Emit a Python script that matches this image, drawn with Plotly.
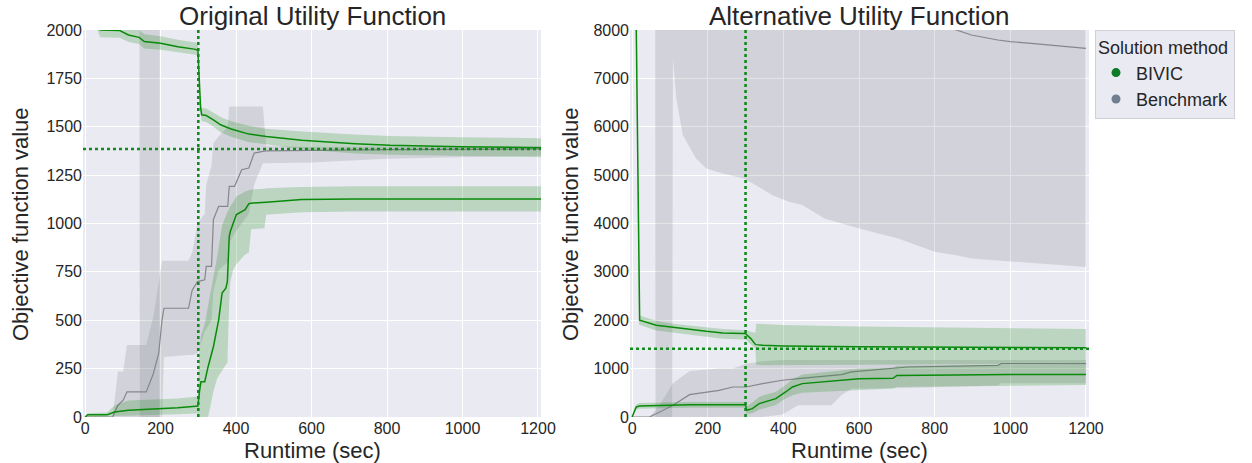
import plotly.graph_objects as go

# ---------------- Original Utility Function ----------------
# BIVIC upper bound (mean, lower/upper band)
orig_bivic_up_x = [0, 25, 40, 92, 115, 143, 157, 200, 246, 293, 299, 302, 306, 309, 321, 340, 359, 387, 434, 480, 574, 715, 808, 996, 1208]
orig_bivic_up_y = [2250, 2080, 2000, 1997, 1974, 1962, 1940, 1931, 1914, 1900, 1893, 1750, 1600, 1562, 1558, 1536, 1510, 1488, 1462, 1450, 1430, 1412, 1404, 1397, 1392]
orig_bivic_up_lo = [2200, 2040, 1962, 1960, 1938, 1928, 1905, 1898, 1884, 1872, 1866, 1710, 1565, 1528, 1524, 1500, 1472, 1448, 1420, 1410, 1382, 1362, 1355, 1348, 1343]
orig_bivic_up_hi = [2300, 2120, 2040, 2036, 2012, 2000, 1978, 1968, 1950, 1935, 1928, 1800, 1640, 1598, 1594, 1572, 1550, 1528, 1505, 1490, 1475, 1460, 1452, 1446, 1441]

# BIVIC lower bound
orig_bivic_lo_x = [0, 7, 59, 78, 115, 153, 218, 246, 293, 299, 303, 307, 317, 321, 326, 340, 350, 354, 363, 373, 377, 382, 385, 392, 401, 424, 434, 440, 475, 480, 574, 715, 1208]
orig_bivic_lo_y = [0, 12, 12, 26, 35, 38, 43, 48, 55, 56, 130, 182, 182, 225, 260, 363, 450, 502, 640, 666, 700, 934, 960, 1000, 1046, 1072, 1103, 1105, 1108, 1110, 1124, 1127, 1127]
orig_bivic_lo_lo = [0, 0, 0, 5, 8, 10, 12, 14, 18, 18, 0, 0, 0, 0, 0, 130, 200, 215, 240, 270, 280, 600, 700, 760, 790, 840, 850, 970, 975, 1045, 1058, 1062, 1062]
orig_bivic_lo_hi = [0, 20, 25, 60, 85, 88, 90, 95, 105, 110, 350, 420, 480, 520, 580, 720, 830, 880, 990, 1040, 1060, 1080, 1090, 1110, 1140, 1165, 1172, 1176, 1180, 1182, 1188, 1192, 1192]

# Benchmark lower bound
orig_bench_lo_x = [0, 73, 87, 101, 111, 162, 181, 195, 204, 209, 274, 284, 298, 317, 321, 335, 340, 354, 378, 382, 396, 415, 434, 448, 471, 480, 600, 800, 1208]
orig_bench_lo_y = [0, 0, 61, 87, 130, 130, 225, 329, 502, 562, 562, 657, 700, 709, 778, 778, 1021, 1089, 1089, 1192, 1192, 1278, 1287, 1364, 1373, 1375, 1378, 1382, 1385]
orig_bench_lo_lo = [0, 0, 0, 0, 0, 0, 0, 0, 0, 310, 320, 320, 330, 440, 450, 500, 650, 760, 800, 900, 950, 1000, 1050, 1200, 1312, 1313, 1315, 1335, 1350]
orig_bench_lo_hi = [0, 0, 235, 235, 372, 372, 520, 700, 808, 808, 808, 850, 1000, 1050, 1200, 1300, 1416, 1450, 1500, 1605, 1605, 1605, 1605, 1605, 1605, 1400, 1395, 1398, 1400]

# Benchmark upper bound (mean sits above the visible range)
orig_bench_up_x = [0, 144, 145, 197, 198, 1208]
orig_bench_up_y = [2600, 2600, 2600, 2600, 2600, 2600]
orig_bench_up_lo = [2300, 2300, 0, 0, 2300, 2300]
orig_bench_up_hi = [3000, 3000, 3000, 3000, 3000, 3000]

orig_best_value = 1385

# ---------------- Alternative Utility Function ----------------
alt_bivic_up_x = [0, 18, 20, 64, 108, 152, 196, 240, 294, 300, 303, 314, 326, 328, 345, 400, 600, 800, 1000, 1200]
alt_bivic_up_y = [15500, 2050, 2000, 1897, 1848, 1814, 1772, 1738, 1724, 1724, 1700, 1620, 1500, 1496, 1483, 1470, 1450, 1440, 1432, 1430]
alt_bivic_up_lo = [15300, 1950, 1900, 1790, 1740, 1700, 1660, 1620, 1600, 1600, 1580, 1500, 1420, 1080, 1070, 1065, 1070, 1080, 1090, 1100]
alt_bivic_up_hi = [15700, 2150, 2100, 1990, 1930, 1890, 1850, 1820, 1800, 1800, 1790, 1760, 1740, 1930, 1920, 1900, 1870, 1850, 1830, 1820]

alt_bivic_lo_x = [0, 11, 20, 64, 152, 294, 300, 303, 318, 336, 354, 380, 406, 424, 450, 600, 690, 700, 1000, 1200]
alt_bivic_lo_y = [0, 207, 228, 241, 255, 255, 250, 138, 172, 276, 324, 380, 517, 620, 690, 790, 800, 860, 876, 880]
alt_bivic_lo_lo = [0, 150, 170, 180, 190, 190, 180, 60, 80, 150, 200, 250, 380, 450, 500, 560, 590, 620, 650, 660]
alt_bivic_lo_hi = [0, 260, 290, 300, 310, 310, 300, 220, 300, 420, 460, 520, 660, 780, 880, 1000, 1020, 1060, 1080, 1090]

alt_bench_lo_x = [0, 46, 73, 108, 152, 196, 230, 266, 301, 345, 397, 439, 527, 553, 580, 729, 967, 976, 1200]
alt_bench_lo_y = [0, 0, 103, 241, 462, 517, 552, 620, 620, 690, 760, 793, 850, 876, 931, 1034, 1069, 1103, 1103]
alt_bench_lo_lo = [0, 0, 0, 0, 0, 0, 0, 0, 0, 0, 50, 241, 241, 448, 586, 600, 650, 700, 700]
alt_bench_lo_hi = [0, 0, 250, 700, 950, 980, 1000, 1000, 1100, 1150, 1180, 1180, 1180, 1180, 1180, 1180, 1180, 1180, 1180]

alt_bench_up_x = [0, 61, 62, 106, 108, 117, 134, 169, 196, 240, 296, 327, 371, 415, 450, 509, 600, 703, 800, 861, 897, 967, 1000, 1055, 1200]
alt_bench_up_y = [12000, 12000, 12000, 12000, 12000, 11800, 11500, 11000, 10800, 10500, 10200, 10000, 9700, 9500, 9300, 9000, 8700, 8400, 8150, 8000, 7897, 7793, 7760, 7724, 7620]
alt_bench_up_lo = [9000, 9000, 0, 0, 7414, 6586, 5828, 5345, 5138, 5034, 4931, 4793, 4586, 4448, 4380, 4104, 3897, 3690, 3414, 3340, 3276, 3230, 3207, 3180, 3103]
alt_bench_up_hi = [14000] * 25

alt_best_value = 1410

time_limit = 300

x_ticks = [0, 200, 400, 600, 800, 1000, 1200]
orig_y_ticks = [0, 250, 500, 750, 1000, 1250, 1500, 1750, 2000]
alt_y_ticks = [0, 1000, 2000, 3000, 4000, 5000, 6000, 7000, 8000]

# ---------------- styling ----------------
GREEN = "#0a8a0a"
GREEN_FILL = "rgba(0,128,0,0.2)"
GRAY = "#86868c"
GRAY_FILL = "rgba(125,127,133,0.21)"
DOT_GREEN = "#128a1e"
TEXT = "#262626"
FONT = "Liberation Sans, Arial, sans-serif"

W, H = 1252, 463
fig = go.Figure()


def add_series(x, y, lo, hi, line_color, fill_color, xa, ya, width=1.5):
    fig.add_trace(go.Scatter(
        x=list(x) + list(x)[::-1], y=list(hi) + list(lo)[::-1],
        fill="toself", fillcolor=fill_color, line=dict(width=0),
        mode="lines", hoverinfo="skip", showlegend=False, xaxis=xa, yaxis=ya))
    fig.add_trace(go.Scatter(
        x=x, y=y, mode="lines", line=dict(color=line_color, width=width),
        showlegend=False, xaxis=xa, yaxis=ya))


# left panel
add_series(orig_bench_up_x, orig_bench_up_y, orig_bench_up_lo, orig_bench_up_hi, GRAY, GRAY_FILL, "x", "y", 1.2)
add_series(orig_bench_lo_x, orig_bench_lo_y, orig_bench_lo_lo, orig_bench_lo_hi, GRAY, GRAY_FILL, "x", "y", 1.2)
add_series(orig_bivic_up_x, orig_bivic_up_y, orig_bivic_up_lo, orig_bivic_up_hi, GREEN, GREEN_FILL, "x", "y")
add_series(orig_bivic_lo_x, orig_bivic_lo_y, orig_bivic_lo_lo, orig_bivic_lo_hi, GREEN, GREEN_FILL, "x", "y")

# right panel
add_series(alt_bench_up_x, alt_bench_up_y, alt_bench_up_lo, alt_bench_up_hi, GRAY, GRAY_FILL, "x2", "y2", 1.2)
add_series(alt_bench_lo_x, alt_bench_lo_y, alt_bench_lo_lo, alt_bench_lo_hi, GRAY, GRAY_FILL, "x2", "y2", 1.2)
add_series(alt_bivic_up_x, alt_bivic_up_y, alt_bivic_up_lo, alt_bivic_up_hi, GREEN, GREEN_FILL, "x2", "y2")
add_series(alt_bivic_lo_x, alt_bivic_lo_y, alt_bivic_lo_lo, alt_bivic_lo_hi, GREEN, GREEN_FILL, "x2", "y2")

# reference lines: time limit and best known objective
for xr, yr, best in (("x", "y", orig_best_value), ("x2", "y2", alt_best_value)):
    fig.add_shape(type="line", xref=xr, yref=yr + " domain", x0=time_limit, x1=time_limit, y0=0, y1=1,
                  line=dict(color=DOT_GREEN, width=2.6, dash="dot"))
    fig.add_shape(type="line", xref=xr + " domain", yref=yr, x0=0, x1=1, y0=best, y1=best,
                  line=dict(color=DOT_GREEN, width=2.6, dash="dot"))

# legend entries
fig.add_trace(go.Scatter(x=[None], y=[None], mode="markers", name="BIVIC",
                         marker=dict(color="#0c7a26", size=9)))
fig.add_trace(go.Scatter(x=[None], y=[None], mode="markers", name="Benchmark",
                         marker=dict(color="#6f7f91", size=9)))

# plot-area pixel boxes
L1, R1, L2, R2 = 83, 541, 630, 1089
TOP, BOT = 30, 417
ydom = [1 - BOT / H, 1 - TOP / H]
x_range = [-5.5, 1208]

axis_common = dict(showgrid=True, gridcolor="white", gridwidth=1.2, zeroline=False,
                   showline=False, ticks="", automargin=False,
                   tickfont=dict(size=16, color=TEXT, family=FONT))

fig.update_layout(
    width=W, height=H,
    margin=dict(l=0, r=0, t=0, b=0, autoexpand=False),
    paper_bgcolor="white", plot_bgcolor="#EAEAF2",
    font=dict(family=FONT, color=TEXT),
    xaxis=dict(domain=[L1 / W, R1 / W], range=x_range, tickvals=x_ticks, anchor="y", **axis_common),
    yaxis=dict(domain=ydom, range=[0, 2000], tickvals=orig_y_ticks, anchor="x", **axis_common),
    xaxis2=dict(domain=[L2 / W, R2 / W], range=x_range, tickvals=x_ticks, anchor="y2", **axis_common),
    yaxis2=dict(domain=ydom, range=[0, 8000], tickvals=alt_y_ticks, anchor="x2", **axis_common),
    legend=dict(x=1095 / W, y=1 - 30 / H, xanchor="left", yanchor="top",
                bgcolor="#EAEAF2", bordercolor="#d0d0d8", borderwidth=1,
                font=dict(size=18, color=TEXT, family=FONT),
                title=dict(text="Solution method", font=dict(size=18, color=TEXT, family=FONT)),
                itemwidth=30),
    showlegend=True,
)

annotations = [
    dict(text="Original Utility Function", x=(L1 + R1) / 2 / W, y=1 - 16 / H, size=26),
    dict(text="Alternative Utility Function", x=(L2 + R2) / 2 / W, y=1 - 16 / H, size=26),
    dict(text="Runtime (sec)", x=(L1 + R1) / 2 / W, y=1 - 450 / H, size=22),
    dict(text="Runtime (sec)", x=(L2 + R2) / 2 / W, y=1 - 450 / H, size=22),
]
for a in annotations:
    fig.add_annotation(text=a["text"], x=a["x"], y=a["y"], xref="paper", yref="paper",
                       xanchor="center", yanchor="middle", showarrow=False,
                       font=dict(size=a["size"], color=TEXT, family=FONT))
for xc in (21, 571):
    fig.add_annotation(text="Objective function value", x=xc / W, y=1 - 224 / H, xref="paper", yref="paper",
                       xanchor="center", yanchor="middle", showarrow=False, textangle=-90,
                       font=dict(size=22, color=TEXT, family=FONT))

fig.write_html("out.html")
